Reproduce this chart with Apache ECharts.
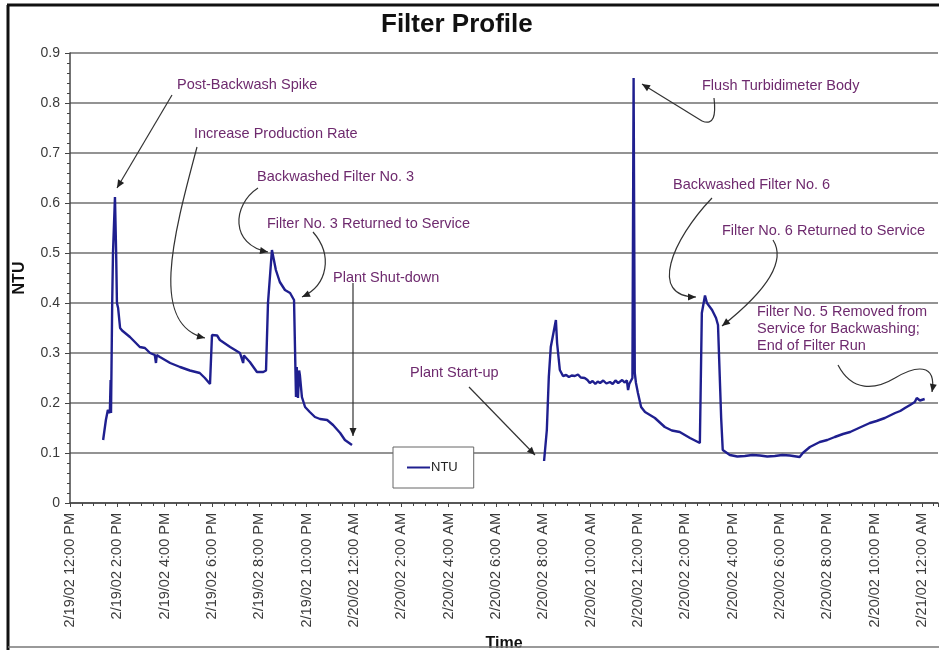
<!DOCTYPE html>
<html>
<head>
<meta charset="utf-8">
<script src="https://cdn.jsdelivr.net/npm/echarts@6/dist/echarts.min.js"></script>
<style>
  html, body { margin: 0; padding: 0; background: #fff; }
  #chart { width: 939px; height: 650px; }
</style>
</head>
<body>
<div id="chart"></div>
<script>
// readings (date + clock time) and NTU values; null = plant off
var times = [
  '2/19 13:24', '2/19 13:31', '2/19 13:36', '2/19 13:41', '2/19 13:43', '2/19 13:44', '2/19 13:47', '2/19 13:49',
  '2/19 13:54', '2/19 13:57', '2/19 13:59', '2/19 14:02', '2/19 14:07', '2/19 14:12', '2/19 14:32', '2/19 14:57',
  '2/19 15:10', '2/19 15:23', '2/19 15:35', '2/19 15:38', '2/19 15:40', '2/19 15:48', '2/19 16:14', '2/19 16:39',
  '2/19 17:04', '2/19 17:29', '2/19 17:42', '2/19 17:55', '2/19 18:00', '2/19 18:13', '2/19 18:20', '2/19 18:46',
  '2/19 19:11', '2/19 19:16', '2/19 19:19', '2/19 19:21', '2/19 19:36', '2/19 19:54', '2/19 20:10', '2/19 20:17',
  '2/19 20:22', '2/19 20:32', '2/19 20:42', '2/19 20:52', '2/19 21:05', '2/19 21:18', '2/19 21:28', '2/19 21:32',
  '2/19 21:33', '2/19 21:35', '2/19 21:38', '2/19 21:41', '2/19 21:43', '2/19 21:48', '2/19 21:56', '2/19 22:08',
  '2/19 22:21', '2/19 22:34', '2/19 22:52', '2/19 23:07', '2/19 23:25', '2/19 23:37', '2/19 23:55',
  '2/20 04:00',
  '2/20 08:02', '2/20 08:09', '2/20 08:14', '2/20 08:19', '2/20 08:24', '2/20 08:32', '2/20 08:35', '2/20 08:42',
  '2/20 08:50', '2/20 08:58', '2/20 09:05', '2/20 09:12', '2/20 09:20', '2/20 09:28', '2/20 09:35', '2/20 09:45',
  '2/20 09:52', '2/20 09:58', '2/20 10:05', '2/20 10:12', '2/20 10:18', '2/20 10:24', '2/20 10:32', '2/20 10:40',
  '2/20 10:49', '2/20 10:56', '2/20 11:03', '2/20 11:10', '2/20 11:14', '2/20 11:20', '2/20 11:26', '2/20 11:32',
  '2/20 11:35', '2/20 11:38', '2/20 11:42', '2/20 11:46', '2/20 11:49', '2/20 11:52', '2/20 11:55', '2/20 12:00',
  '2/20 12:08', '2/20 12:18', '2/20 12:43', '2/20 13:08', '2/20 13:26', '2/20 13:46', '2/20 14:12', '2/20 14:37',
  '2/20 14:42', '2/20 14:50', '2/20 14:55', '2/20 15:08', '2/20 15:18', '2/20 15:23', '2/20 15:31', '2/20 15:35',
  '2/20 15:53', '2/20 16:12', '2/20 16:31', '2/20 16:50', '2/20 17:09', '2/20 17:28', '2/20 17:47', '2/20 18:06',
  '2/20 18:25', '2/20 18:50', '2/20 18:58', '2/20 19:16', '2/20 19:41', '2/20 20:00', '2/20 20:19', '2/20 20:40',
  '2/20 20:58', '2/20 21:20', '2/20 21:48', '2/20 22:05', '2/20 22:26', '2/20 22:52', '2/20 23:05', '2/20 23:17',
  '2/20 23:30', '2/20 23:42', '2/20 23:47', '2/20 23:55', '2/21 00:07'
];
var ntu = [
  0.126, 0.166, 0.186, 0.18, 0.246, 0.18, 0.40, 0.50,
  0.612, 0.50, 0.40, 0.39, 0.35, 0.345, 0.332, 0.312,
  0.31, 0.30, 0.296, 0.28, 0.296, 0.292, 0.28, 0.272,
  0.265, 0.26, 0.25, 0.238, 0.336, 0.335, 0.326, 0.312,
  0.30, 0.296, 0.28, 0.295, 0.282, 0.262, 0.262, 0.265,
  0.40, 0.506, 0.466, 0.442, 0.426, 0.42, 0.406, 0.403,
  0.212, 0.272, 0.21, 0.265, 0.255, 0.212, 0.192, 0.182,
  0.172, 0.168, 0.166, 0.156, 0.14, 0.126, 0.116,
  null,
  0.084, 0.146, 0.252, 0.312, 0.31, 0.366, 0.32, 0.266,
  0.254, 0.256, 0.252, 0.255, 0.254, 0.257, 0.251, 0.25,
  0.246, 0.24, 0.244, 0.238, 0.243, 0.24, 0.245, 0.239,
  0.242, 0.238, 0.245, 0.24, 0.244, 0.246, 0.241, 0.245,
  0.226, 0.238, 0.24, 0.25, 0.85, 0.26, 0.24, 0.22,
  0.192, 0.182, 0.17, 0.152, 0.145, 0.142, 0.13, 0.12,
  0.38, 0.415, 0.40, 0.386, 0.37, 0.356, 0.17, 0.106,
  0.096, 0.093, 0.094, 0.096, 0.095, 0.093, 0.094, 0.096,
  0.095, 0.092, 0.10, 0.112, 0.122, 0.126, 0.132, 0.138,
  0.142, 0.15, 0.16, 0.164, 0.17, 0.18, 0.184, 0.19,
  0.196, 0.202, 0.21, 0.205, 0.208
];
var yTicks = [0, 0.1, 0.2, 0.3, 0.4, 0.5, 0.6, 0.7, 0.8, 0.9];

// hours since 2/19/02 12:00 PM
function toHours(s) {
  var p = s.split(' '), d = +p[0].split('/')[1], hm = p[1].split(':');
  return (d - 19) * 24 + (+hm[0]) + (+hm[1]) / 60 - 12;
}
function hourLabel(h) {
  var abs = 12 + h, day = 19 + Math.floor(abs / 24), h24 = abs % 24;
  var h12 = h24 % 12 || 12;
  return '2/' + day + '/02 ' + h12 + ':00 ' + (h24 < 12 ? 'AM' : 'PM');
}

var seriesData = times.map(function (t, i) { return [toHours(t), ntu[i]]; });

var labelColor = '#6e2a6e';
var noteFont = '14.5px "Liberation Sans", Arial, sans-serif';
var notes = [
  { text: 'Post-Backwash Spike', x: 177, y: 85 },
  { text: 'Increase Production Rate', x: 194, y: 134 },
  { text: 'Backwashed Filter No. 3', x: 257, y: 177 },
  { text: 'Filter No. 3 Returned to Service', x: 267, y: 224 },
  { text: 'Plant Shut-down', x: 333, y: 278 },
  { text: 'Plant Start-up', x: 410, y: 373 },
  { text: 'Flush Turbidimeter Body', x: 702, y: 86 },
  { text: 'Backwashed Filter No. 6', x: 673, y: 185 },
  { text: 'Filter No. 6 Returned to Service', x: 722, y: 231 },
  { text: 'Filter No. 5 Removed from\nService for Backwashing;\nEnd of Filter Run', x: 757, y: 329 }
];
// arrow segments: 4 numbers = straight line, 8 numbers = cubic (x1,y1,cp1x,cp1y,cp2x,cp2y,x2,y2)
// from = point the head is aimed from, tip = arrow end
var arrows = [
  { segs: [[172, 95, 117, 188]], from: [172, 95], tip: [117, 188] },
  { segs: [[197, 147, 172, 240, 150, 325, 205, 338]], from: [150, 325], tip: [205, 338] },
  { segs: [[258, 188, 232, 205, 230, 245, 268, 252]], from: [230, 245], tip: [268, 252] },
  { segs: [[313, 232, 333, 255, 328, 285, 302, 297]], from: [328, 285], tip: [302, 297] },
  { segs: [[353, 283, 353, 436]], from: [353, 283], tip: [353, 436] },
  { segs: [[469, 387, 535, 455]], from: [469, 387], tip: [535, 455] },
  { segs: [[714, 98, 716, 115, 714, 126, 702, 121], [702, 121, 642, 84]], from: [702, 121], tip: [642, 84] },
  { segs: [[712, 198, 672, 240, 648, 297, 696, 297]], from: [648, 297], tip: [696, 297] },
  { segs: [[773, 240, 787, 262, 765, 292, 722, 326]], from: [765, 292], tip: [722, 326] },
  { segs: [[838, 365, 852, 392, 875, 390, 895, 378], [895, 378, 915, 366, 937, 362, 932, 392]], from: [937, 362], tip: [932, 392] }
];

function arrowHead(a) {
  var dx = a.tip[0] - a.from[0], dy = a.tip[1] - a.from[1];
  var len = Math.sqrt(dx * dx + dy * dy); dx /= len; dy /= len;
  var L = 8, W = 3.5;
  var bx = a.tip[0] - dx * L, by = a.tip[1] - dy * L;
  return [a.tip, [bx - dy * W, by + dx * W], [bx + dy * W, by - dx * W]];
}

var arrowStyle = { fill: null, stroke: '#333', lineWidth: 1.2 };
var graphics = [];
notes.forEach(function (n) {
  graphics.push({
    type: 'text', x: n.x, y: n.y, z: 10,
    style: { text: n.text, fill: labelColor, font: noteFont,
      textVerticalAlign: 'middle', lineHeight: 17 }
  });
});
arrows.forEach(function (a) {
  a.segs.forEach(function (s) {
    if (s.length === 4) {
      graphics.push({ type: 'line', z: 10, shape: { x1: s[0], y1: s[1], x2: s[2], y2: s[3] }, style: arrowStyle });
    } else {
      graphics.push({ type: 'bezierCurve', z: 10,
        shape: { x1: s[0], y1: s[1], cpx1: s[2], cpy1: s[3], cpx2: s[4], cpy2: s[5], x2: s[6], y2: s[7] },
        style: arrowStyle });
    }
  });
  graphics.push({ type: 'polygon', z: 10, shape: { points: arrowHead(a) }, style: { fill: '#222' } });
});
// picture frame
graphics.push({ type: 'line', z: 20, shape: { x1: 7, y1: 5, x2: 939, y2: 5 }, style: { stroke: '#111', lineWidth: 3 } });
graphics.push({ type: 'line', z: 20, shape: { x1: 8, y1: 5, x2: 8, y2: 650 }, style: { stroke: '#111', lineWidth: 3 } });
graphics.push({ type: 'line', z: 20, shape: { x1: 8, y1: 647, x2: 939, y2: 647 }, style: { stroke: '#777', lineWidth: 1.5 } });

var chart = echarts.init(document.getElementById('chart'));
chart.setOption({
  backgroundColor: '#fff',
  animation: false,
  color: ['#1f1f8f'],
  title: {
    text: 'Filter Profile', left: 376, top: 7,
    textStyle: { fontFamily: '"Liberation Sans", Arial, sans-serif', fontSize: 26, fontWeight: 'bold', color: '#111' }
  },
  legend: {
    left: 393, top: 447,
    data: [{ name: 'NTU', icon: 'rect' }],
    itemWidth: 23, itemHeight: 2, itemGap: 0,
    padding: [14, 16, 14, 14],
    borderColor: '#666', borderWidth: 1, backgroundColor: '#fff',
    textStyle: { fontFamily: '"Liberation Sans", Arial, sans-serif', fontSize: 13, color: '#222', padding: [0, 0, 0, -4] }
  },
  grid: { left: 70, right: 1, top: 53, bottom: 147, containLabel: false, outerBoundsMode: 'none' },
  xAxis: {
    type: 'value', min: 0, max: 36.68, interval: 2,
    name: 'Time', nameLocation: 'middle', nameGap: 132,
    nameTextStyle: { fontFamily: '"Liberation Sans", Arial, sans-serif', fontSize: 16, fontWeight: 'bold', color: '#111' },
    axisLine: { lineStyle: { color: '#444', width: 1.5 } },
    axisTick: { length: 4, lineStyle: { color: '#444' } },
    minorTick: { show: true, splitNumber: 4, length: 3, lineStyle: { color: '#444' } },
    splitLine: { show: false },
    axisLabel: {
      rotate: 90, margin: 10, color: '#3a3a3a', fontSize: 14.5,
      fontFamily: '"Liberation Sans", Arial, sans-serif',
      showMaxLabel: false,
      formatter: function (v) { return hourLabel(v); }
    }
  },
  yAxis: {
    type: 'value', min: yTicks[0], max: yTicks[yTicks.length - 1], interval: 0.1,
    name: 'NTU', nameLocation: 'middle', nameGap: 42, nameRotate: 90,
    nameTextStyle: { fontFamily: '"Liberation Sans", Arial, sans-serif', fontSize: 16, fontWeight: 'bold', color: '#111' },
    axisLine: { show: true, lineStyle: { color: '#444', width: 1.5 } },
    axisTick: { show: true, length: 5, lineStyle: { color: '#444' } },
    minorTick: { show: true, splitNumber: 5, length: 3, lineStyle: { color: '#444' } },
    splitLine: { show: true, lineStyle: { color: '#6f6f6f', width: 1.5 } },
    axisLabel: {
      color: '#3a3a3a', fontSize: 14, margin: 10,
      fontFamily: '"Liberation Sans", Arial, sans-serif',
      formatter: function (v) { return +v.toFixed(1) + ''; }
    }
  },
  series: [{
    name: 'NTU', type: 'line', data: seriesData,
    showSymbol: false, symbol: 'none', connectNulls: false,
    lineStyle: { width: 2.4, color: '#1f1f8f' }
  }],
  graphic: graphics
});
</script>
</body>
</html>
